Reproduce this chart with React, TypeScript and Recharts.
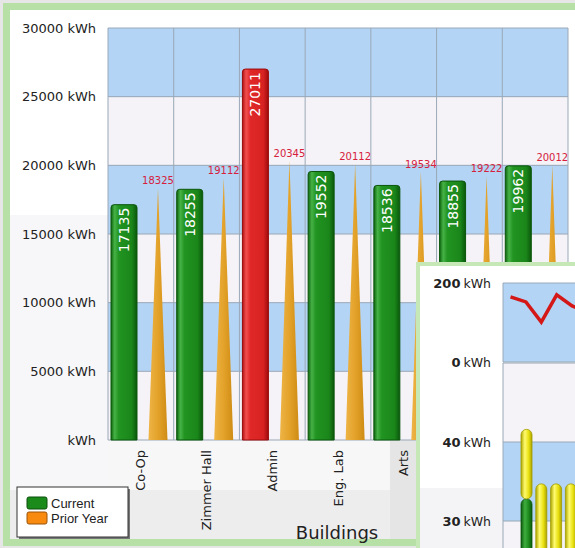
import React from 'react';
import { BarChart, Bar, XAxis, YAxis, CartesianGrid, LabelList, LineChart, Line } from 'recharts';

// ---------- main chart data ----------
const buildings = ['Co-Op', 'Zimmer Hall', 'Admin', 'Eng. Lab', 'Arts', 'Library', 'Gym'];
const currentKWh = [17135, 18255, 27011, 19552, 18536, 18855, 19962];
const priorKWh = [18325, 19112, 20345, 20112, 19534, 19222, 20012];
const yTicks = [0, 5000, 10000, 15000, 20000, 25000, 30000];

// ---------- inset (partly visible second panel) ----------
const insetLineLabels = ['1', '2', '3', '4', '5', '6'];
const insetLineValues = [165, 152, 101, 170, 142, 125];
const insetTopTicks = [0, 200];

const insetBarLabels = ['A', 'B', 'C', 'D', 'E'];
const insetGreen = [32.8, 25, 25, 25, 25];
const insetYellow = [8.8, 9.7, 9.7, 9.7, 9.7];
const insetBottomTicks = [20, 30, 40, 50];
const insetBottomShown = [30, 40];

const mainData = buildings.map((b, i) => ({ building: b, current: currentKWh[i], prior: priorKWh[i] }));
const lineData = insetLineLabels.map((t, i) => ({ t, v: insetLineValues[i] }));
const insetBarData = insetBarLabels.map((c, i) => ({ c, g: insetGreen[i], y: insetYellow[i] }));

const FONT = 'DejaVu Sans, Verdana, sans-serif';
const BLUE = '#b3d4f4';
const PALE = '#f5f3f7';
const GRID = '#9aa8b7';

const CurrentShape = (props: any) => {
  const { x, y, width, height, payload } = props;
  if (!height || height <= 0) return null;
  const over = payload.current > payload.prior;
  const r = 3;
  const d = `M${x},${y + height} L${x},${y + r} Q${x},${y} ${x + r},${y} L${x + width - r},${y} Q${x + width},${y} ${x + width},${y + r} L${x + width},${y + height} Z`;
  return (
    <path
      d={d}
      fill={over ? 'url(#gRed)' : 'url(#gGreen)'}
      stroke={over ? '#9a0c0c' : '#0b560b'}
      strokeWidth={1}
    />
  );
};

const PriorShape = (props: any) => {
  const { x, y, width, height } = props;
  if (!height || height <= 0) return null;
  const cx = x + width / 2;
  const half = 9.5;
  return <path d={`M${cx - half},${y + height} L${cx},${y} L${cx + half},${y + height} Z`} fill="url(#gGold)" />;
};

const CurrentLabel = (props: any) => {
  const { x, y, width, value } = props;
  const cx = Number(x) + Number(width) / 2;
  const ty = Number(y) + 3;
  return (
    <text
      x={cx}
      y={ty}
      transform={`rotate(-90 ${cx} ${ty})`}
      textAnchor="end"
      dominantBaseline="central"
      fill="#ffffff"
      fontSize={14}
      fontFamily={FONT}
    >
      {value}
    </text>
  );
};

const PriorLabel = (props: any) => {
  const { x, y, width, value } = props;
  const cx = Number(x) + Number(width) / 2;
  return (
    <text x={cx} y={Number(y) - 4} textAnchor="middle" fill="#d6203c" fontSize={10} fontFamily={FONT}>
      {value}
    </text>
  );
};

const BuildingTick = (props: any) => {
  const { x, y, payload } = props;
  return (
    <text
      x={x}
      y={y}
      transform={`rotate(-90 ${x} ${y})`}
      textAnchor="end"
      dominantBaseline="central"
      fontSize={13}
      fill="#222"
      fontFamily={FONT}
    >
      {payload.value}
    </text>
  );
};

const makeInsetTick = (shown: number[] | null) => (props: any) => {
  const { x, y, payload } = props;
  if (shown && !shown.includes(payload.value)) return <g />;
  return (
    <text x={x} y={y} textAnchor="end" dominantBaseline="central" fill="#222" fontFamily={FONT}>
      <tspan fontSize={13} fontWeight={600}>{payload.value}</tspan>
      <tspan fontSize={12.5} dx={3}>kWh</tspan>
    </text>
  );
};

const Capsule = (props: any) => {
  const { x, y, width, height, kind } = props;
  if (!height || height <= 0) return null;
  const r = width / 2;
  return (
    <rect
      x={x}
      y={y}
      width={width}
      height={height}
      rx={r}
      ry={r}
      fill={kind === 'green' ? 'url(#iGreen)' : 'url(#iYellow)'}
      stroke={kind === 'green' ? '#0b560b' : '#a09a00'}
      strokeWidth={0.8}
    />
  );
};

const boundaryGen = (n: number) => (args: any) => {
  const off = args && args.offset;
  if (!off) return [];
  const pts: number[] = [];
  for (let i = 0; i <= n; i++) pts.push(off.left + (i * off.width) / n);
  return pts;
};

const leftEdgeGen = (args: any) => {
  const off = args && args.offset;
  return off ? [off.left] : [];
};

export default function App() {
  return (
    <div
      style={{
        position: 'fixed',
        left: 0,
        top: 0,
        width: 575,
        height: 548,
        overflow: 'hidden',
        background: '#e6e6e6',
        fontFamily: FONT,
      }}
    >
      {/* outer frame */}
      <div
        style={{
          position: 'absolute',
          left: 3,
          top: 3,
          width: 620,
          height: 543,
          boxSizing: 'border-box',
          border: '7px solid #b6e0a6',
          background: '#ffffff',
        }}
      />
      {/* soft background tints */}
      <div style={{ position: 'absolute', left: 10, top: 215, width: 98, height: 275, background: '#f7f6f8' }} />
      <div style={{ position: 'absolute', left: 10, top: 490, width: 380, height: 49, background: '#ededed' }} />
      <div style={{ position: 'absolute', left: 390, top: 440, width: 200, height: 99, background: '#e5e5e5' }} />
      <div style={{ position: 'absolute', left: 108, top: 440, width: 282, height: 50, background: '#f7f7f7' }} />

      {/* main chart */}
      <div style={{ position: 'absolute', left: 0, top: 0 }}>
        <BarChart
          width={575}
          height={548}
          data={mainData}
          margin={{ top: 28, right: 7, left: 0, bottom: 48 }}
          barSize={26}
          barGap={8}
        >
          <defs>
            <linearGradient id="gGreen" x1="0" y1="0" x2="1" y2="0">
              <stop offset="0%" stopColor="#0e660e" />
              <stop offset="14%" stopColor="#46b246" />
              <stop offset="30%" stopColor="#219421" />
              <stop offset="80%" stopColor="#1a861a" />
              <stop offset="100%" stopColor="#0b580b" />
            </linearGradient>
            <linearGradient id="gRed" x1="0" y1="0" x2="1" y2="0">
              <stop offset="0%" stopColor="#b01010" />
              <stop offset="14%" stopColor="#f25050" />
              <stop offset="30%" stopColor="#e02828" />
              <stop offset="80%" stopColor="#d82222" />
              <stop offset="100%" stopColor="#a00c0c" />
            </linearGradient>
            <linearGradient id="gGold" x1="0" y1="0" x2="1" y2="0">
              <stop offset="0%" stopColor="#eeb446" />
              <stop offset="50%" stopColor="#e3a22a" />
              <stop offset="100%" stopColor="#cf8c14" />
            </linearGradient>
          </defs>
          <CartesianGrid
            horizontalFill={[BLUE, PALE]}
            fillOpacity={1}
            stroke={GRID}
            strokeWidth={1}
            verticalCoordinatesGenerator={boundaryGen(buildings.length)}
          />
          <XAxis
            dataKey="building"
            height={60}
            tickSize={0}
            tickMargin={10}
            axisLine={false}
            tickLine={false}
            interval={0}
            tick={<BuildingTick />}
          />
          <YAxis
            domain={[0, 30000]}
            ticks={yTicks}
            width={108}
            tickSize={0}
            tickMargin={12}
            axisLine={false}
            tickLine={false}
            tick={{ fill: '#222', fontSize: 13, fontFamily: FONT }}
            tickFormatter={(v: number) => (v === 0 ? 'kWh' : `${v} kWh`)}
          />
          <Bar dataKey="current" shape={<CurrentShape />} isAnimationActive={false}>
            <LabelList dataKey="current" content={<CurrentLabel />} />
          </Bar>
          <Bar dataKey="prior" shape={<PriorShape />} isAnimationActive={false}>
            <LabelList dataKey="prior" content={<PriorLabel />} />
          </Bar>
        </BarChart>
      </div>

      {/* axis title + legend */}
      <svg width={575} height={548} style={{ position: 'absolute', left: 0, top: 0 }}>
        <text x={337} y={539} textAnchor="middle" fontSize={18} fill="#222" fontFamily={FONT}>
          Buildings
        </text>
        <rect x={19} y={489} width={111} height={50} fill="#777" />
        <rect x={17} y={487} width={111} height={50} fill="#ffffff" stroke="#333" strokeWidth={1} />
        <rect x={27} y={497} width={20} height={12} rx={2} fill="#1a8a1a" stroke="#0b4f0b" />
        <rect x={27} y={512} width={20} height={12} rx={2} fill="#f88a10" stroke="#9a5208" />
        <text x={51} y={508} fontSize={13} fill="#222" fontFamily="Liberation Sans, Arial, sans-serif">
          Current
        </text>
        <text x={51} y={523} fontSize={13} fill="#222" fontFamily="Liberation Sans, Arial, sans-serif">
          Prior Year
        </text>
      </svg>

      {/* inset panel */}
      <div
        style={{
          position: 'absolute',
          left: 416,
          top: 262,
          width: 220,
          height: 300,
          boxSizing: 'border-box',
          border: '4px solid #c6e7b6',
          background: '#ffffff',
          overflow: 'hidden',
        }}
      >
        <div style={{ position: 'absolute', left: 0, top: 222, width: 83, height: 60, background: '#f4f4f6' }} />
        <div style={{ position: 'absolute', left: 0, top: 0 }}>
          <BarChart
            width={200}
            height={340}
            data={insetBarData}
            margin={{ top: 97, right: 27, bottom: 6, left: 0 }}
            barSize={11}
          >
            <defs>
              <linearGradient id="iGreen" x1="0" y1="0" x2="1" y2="0">
                <stop offset="0%" stopColor="#0c5a0c" />
                <stop offset="35%" stopColor="#3fae3f" />
                <stop offset="70%" stopColor="#1c8a1c" />
                <stop offset="100%" stopColor="#0c5a0c" />
              </linearGradient>
              <linearGradient id="iYellow" x1="0" y1="0" x2="1" y2="0">
                <stop offset="0%" stopColor="#b0a800" />
                <stop offset="35%" stopColor="#fffb70" />
                <stop offset="70%" stopColor="#e8e010" />
                <stop offset="100%" stopColor="#aaa200" />
              </linearGradient>
            </defs>
            <CartesianGrid
              horizontalFill={[PALE, BLUE]}
              fillOpacity={1}
              stroke={GRID}
              verticalCoordinatesGenerator={leftEdgeGen}
            />
            <XAxis dataKey="c" hide padding={{ left: 16, right: 0 }} />
            <YAxis
              domain={[20, 50]}
              ticks={insetBottomTicks}
              allowDataOverflow
              width={83}
              tickSize={0}
              tickMargin={12}
              axisLine={false}
              tickLine={false}
              tick={makeInsetTick(insetBottomShown)}
            />
            <Bar dataKey="g" stackId="s" isAnimationActive={false} shape={(p: any) => <Capsule {...p} kind="green" />} />
            <Bar dataKey="y" stackId="s" isAnimationActive={false} shape={(p: any) => <Capsule {...p} kind="yellow" />} />
          </BarChart>
        </div>
        <div style={{ position: 'absolute', left: 0, top: 0 }}>
          <LineChart width={200} height={110} data={lineData} margin={{ top: 17, right: 25, bottom: 14, left: 0 }}>
            <CartesianGrid
              horizontalFill={[BLUE]}
              fillOpacity={1}
              stroke={GRID}
              verticalCoordinatesGenerator={leftEdgeGen}
            />
            <XAxis dataKey="t" hide padding={{ left: 7.5, right: 7.5 }} />
            <YAxis
              domain={[0, 200]}
              ticks={insetTopTicks}
              interval={0}
              width={83}
              tickSize={0}
              tickMargin={12}
              axisLine={false}
              tickLine={false}
              tick={makeInsetTick(null)}
            />
            <Line
              dataKey="v"
              stroke="#d41818"
              strokeWidth={3.5}
              dot={false}
              isAnimationActive={false}
              strokeLinejoin="miter"
            />
          </LineChart>
        </div>
      </div>
    </div>
  );
}
